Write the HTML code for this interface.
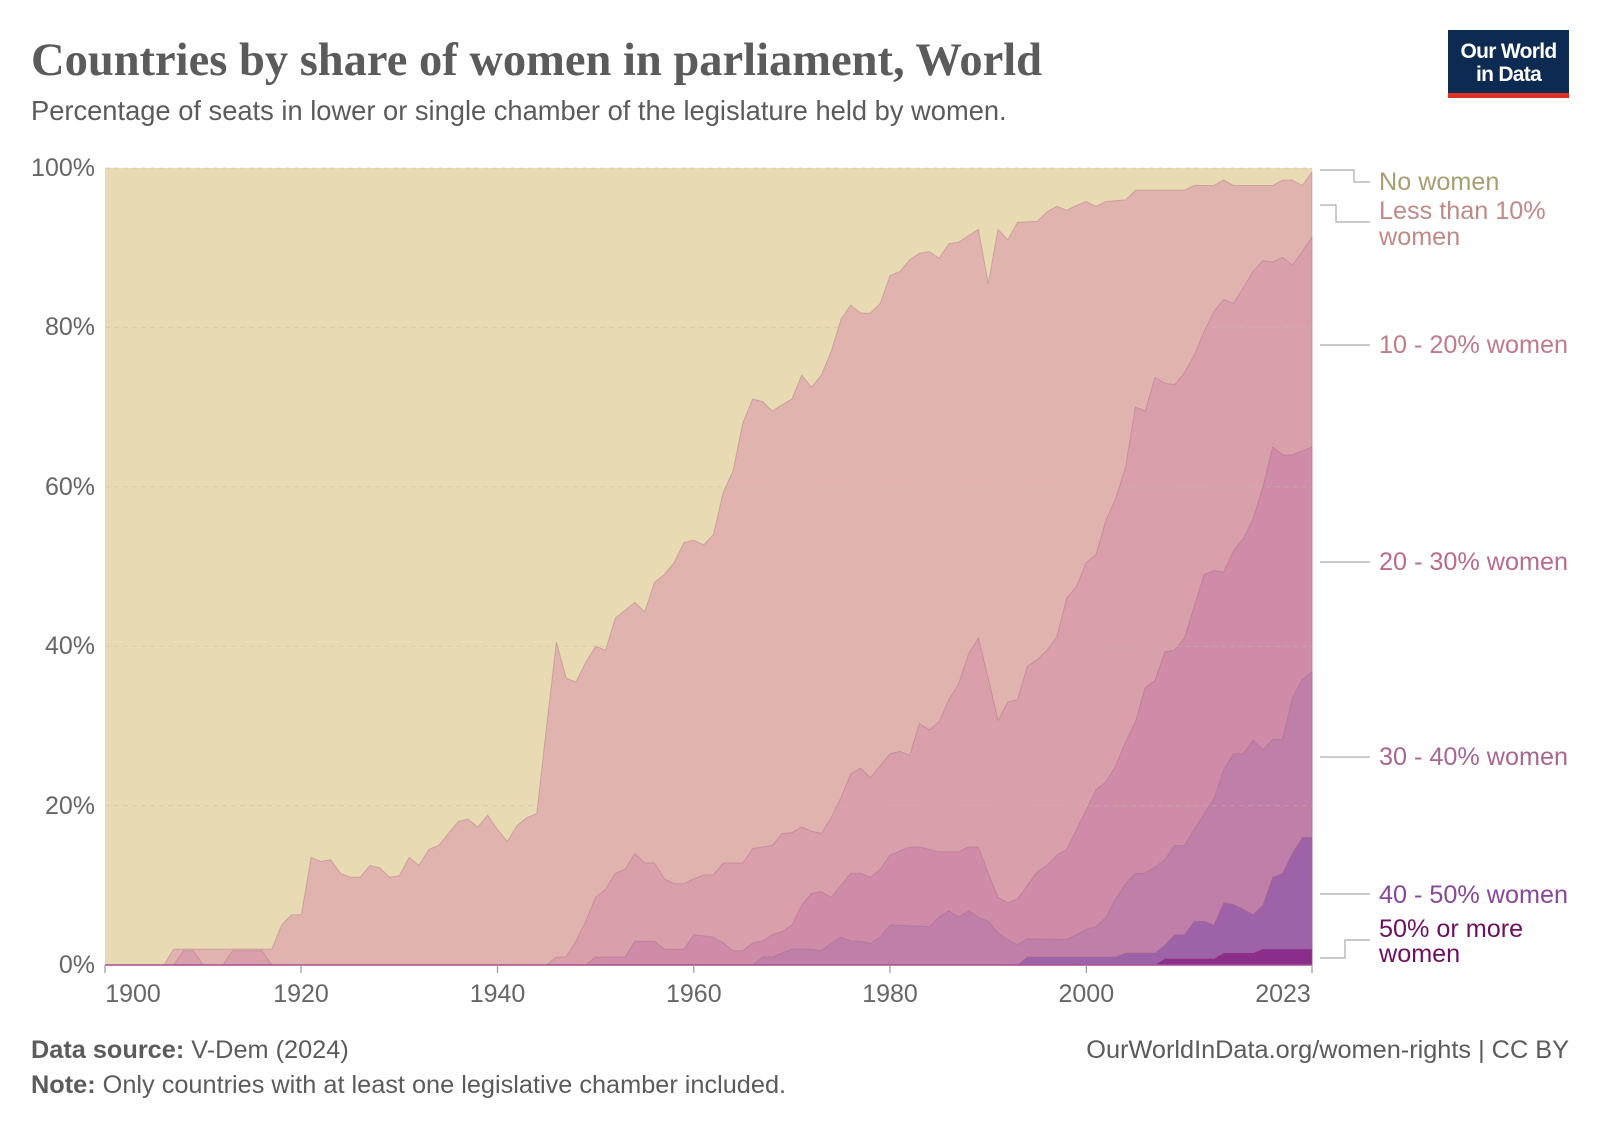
<!DOCTYPE html>
<html><head><meta charset="utf-8">
<style>
html,body{margin:0;padding:0;background:#fff;}
body{width:1600px;height:1129px;overflow:hidden;position:relative;font-family:"Liberation Sans",sans-serif;}
svg{position:absolute;left:0;top:0;}
</style></head>
<body>
<svg id="s" width="1600" height="1129" viewBox="0 0 1600 1129" xmlns="http://www.w3.org/2000/svg">
<text x="31" y="75" font-family="Liberation Serif,serif" font-weight="bold" font-size="46.5" fill="#5b5b5b">Countries by share of women in parliament, World</text>
<text x="31" y="120" font-size="27.3" fill="#5b5b5b">Percentage of seats in lower or single chamber of the legislature held by women.</text>
<rect x="1448" y="30" width="121" height="63" fill="#0d2a52"/>
<rect x="1448" y="93" width="121" height="5" fill="#dc3224"/>
<text x="1508.5" y="58" text-anchor="middle" font-size="21" fill="#fff" font-weight="bold" letter-spacing="-0.7">Our World</text>
<text x="1508.5" y="81" text-anchor="middle" font-size="21" fill="#fff" font-weight="bold" letter-spacing="-0.7">in Data</text>
<rect x="105" y="168" width="1207" height="797" fill="#e8dab2"/>
<g id="areas"></g>
<g stroke="#c9b9a0" stroke-opacity="0.45" stroke-dasharray="5,4" stroke-width="1">
<line x1="105" x2="1312" y1="168" y2="168"/><line x1="105" x2="1312" y1="327.4" y2="327.4"/><line x1="105" x2="1312" y1="486.8" y2="486.8"/><line x1="105" x2="1312" y1="646.2" y2="646.2"/><line x1="105" x2="1312" y1="805.6" y2="805.6"/>
</g>
<g font-size="25" fill="#666" text-anchor="end">
<text x="95" y="176">100%</text><text x="95" y="335">80%</text><text x="95" y="495">60%</text><text x="95" y="654">40%</text><text x="95" y="814">20%</text><text x="95" y="973">0%</text>
</g>
<g stroke="#999" stroke-width="1.2">
<line x1="105" x2="105" y1="965" y2="973"/><line x1="301" x2="301" y1="965" y2="973"/><line x1="497.5" x2="497.5" y1="965" y2="973"/><line x1="693.8" x2="693.8" y1="965" y2="973"/><line x1="890" x2="890" y1="965" y2="973"/><line x1="1086.3" x2="1086.3" y1="965" y2="973"/><line x1="1312" x2="1312" y1="965" y2="973"/>
</g>
<g font-size="25" fill="#666" text-anchor="middle">
<text x="133" y="1002">1900</text><text x="301" y="1002">1920</text><text x="497.5" y="1002">1940</text><text x="693.8" y="1002">1960</text><text x="890" y="1002">1980</text><text x="1086.3" y="1002">2000</text><text x="1283" y="1002">2023</text>
</g>
<g fill="none" stroke="#aaa" stroke-width="1.2">
<polyline points="1320,170 1354,170 1354,182 1370,182"/>
<polyline points="1320,205 1336,205 1336,222 1370,222"/>
<line x1="1320" x2="1370" y1="345" y2="345"/>
<line x1="1320" x2="1370" y1="562" y2="562"/>
<line x1="1320" x2="1370" y1="757" y2="757"/>
<line x1="1320" x2="1370" y1="894" y2="894"/>
<polyline points="1320,958 1345,958 1345,940 1370,940"/>
</g>
<g font-size="25.2">
<text x="1379" y="190" fill="#a99e6f">No women</text>
<text x="1379" y="219" fill="#c08a86">Less than 10%</text>
<text x="1379" y="245" fill="#c08a86">women</text>
<text x="1379" y="353" fill="#c07a8c">10 - 20% women</text>
<text x="1379" y="570" fill="#b86c8c">20 - 30% women</text>
<text x="1379" y="765" fill="#a96692">30 - 40% women</text>
<text x="1379" y="903" fill="#87489a">40 - 50% women</text>
<text x="1379" y="937" fill="#6e1060">50% or more</text>
<text x="1379" y="962" fill="#6e1060">women</text>
</g>
<g font-size="25.3" fill="#5b5b5b">
<text x="31" y="1058"><tspan font-weight="bold">Data source:</tspan> V-Dem (2024)</text>
<text x="31" y="1093"><tspan font-weight="bold">Note:</tspan> Only countries with at least one legislative chamber included.</text>
<text x="1569" y="1058" text-anchor="end">OurWorldInData.org/women-rights | CC BY</text>
</g>
</svg>
<script>
var B=[
[[1900,0],[1906,0],[1907,2],[1917,2],[1918,5],[1919,6.3],[1920,6.3],[1921,13.5],[1922,13],[1923,13.2],[1924,11.5],[1925,11],[1926,11],[1927,12.5],[1928,12.2],[1929,11],[1930,11.2],[1931,13.5],[1932,12.5],[1933,14.5],[1934,15],[1935,16.5],[1936,18],[1937,18.3],[1938,17.3],[1939,18.8],[1940,17],[1941,15.5],[1942,17.5],[1943,18.5],[1944,19],[1945,30],[1946,40.5],[1947,36],[1948,35.5],[1949,38],[1950,40],[1951,39.5],[1952,43.5],[1953,44.5],[1954,45.5],[1955,44.3],[1956,48],[1957,49],[1958,50.5],[1959,53],[1960,53.3],[1961,52.7],[1962,54],[1963,59.3],[1964,62],[1965,68],[1966,71],[1967,70.7],[1968,69.5],[1969,70.3],[1970,71],[1971,74],[1972,72.5],[1973,74],[1974,77],[1975,81],[1976,82.8],[1977,81.8],[1978,81.8],[1979,83],[1980,86.5],[1981,87],[1982,88.5],[1983,89.3],[1984,89.5],[1985,88.7],[1986,90.5],[1987,90.7],[1988,91.5],[1989,92.3],[1990,85.5],[1991,92.3],[1992,91],[1993,93.2],[1995,93.3],[1996,94.5],[1997,95.2],[1998,94.7],[1999,95.3],[2000,95.8],[2001,95.2],[2002,95.8],[2004,96],[2005,97.2],[2010,97.2],[2011,97.8],[2013,97.8],[2014,98.5],[2015,97.8],[2019,97.8],[2020,98.5],[2021,98.5],[2022,97.8],[2023,99.5]],
[[1900,0],[1907,0],[1908,1.8],[1909,1.8],[1910,0],[1912,0],[1913,1.8],[1916,1.8],[1917,0],[1945,0],[1946,1],[1947,1],[1948,3],[1949,5.5],[1950,8.5],[1951,9.5],[1952,11.5],[1953,12],[1954,14],[1955,12.8],[1956,12.8],[1957,10.8],[1958,10.2],[1959,10.2],[1960,10.8],[1961,11.3],[1962,11.3],[1963,12.8],[1965,12.8],[1966,14.6],[1967,14.8],[1968,15],[1969,16.5],[1970,16.6],[1971,17.3],[1972,16.8],[1973,16.5],[1974,18.5],[1975,21],[1976,24],[1977,24.7],[1978,23.5],[1979,25],[1980,26.5],[1981,26.8],[1982,26.3],[1983,30.3],[1984,29.5],[1985,30.5],[1986,33.3],[1987,35.3],[1988,39],[1989,41],[1990,36],[1991,30.7],[1992,33],[1993,33.3],[1994,37.5],[1995,38.3],[1996,39.5],[1997,41.2],[1998,46],[1999,47.5],[2000,50.5],[2001,51.5],[2002,55.8],[2003,58.5],[2004,62.5],[2005,70],[2006,69.5],[2007,73.7],[2008,73],[2009,72.8],[2010,74.3],[2011,76.5],[2012,79.5],[2013,82],[2014,83.5],[2015,83],[2016,85],[2017,87],[2018,88.4],[2019,88.2],[2020,88.8],[2021,87.8],[2022,89.5],[2023,91.3]],
[[1900,0],[1949,0],[1950,1],[1953,1],[1954,3],[1956,3],[1957,2],[1959,2],[1960,3.8],[1962,3.5],[1963,2.8],[1964,1.8],[1965,1.8],[1966,2.8],[1967,3],[1968,3.8],[1969,4.2],[1970,5],[1971,7.5],[1972,9],[1973,9.2],[1974,8.5],[1975,10],[1976,11.5],[1977,11.5],[1978,11],[1979,12],[1980,13.8],[1981,14.3],[1982,14.8],[1983,14.8],[1984,14.5],[1985,14.2],[1987,14.2],[1988,14.8],[1989,14.8],[1990,11.5],[1991,8.5],[1992,7.8],[1993,8.3],[1994,10],[1995,11.7],[1996,12.5],[1997,13.8],[1998,14.5],[1999,17],[2000,19.5],[2001,22],[2002,23],[2003,25],[2004,28],[2005,30.5],[2006,34.8],[2007,35.7],[2008,39.3],[2009,39.5],[2010,41],[2011,45],[2012,49],[2013,49.5],[2014,49.3],[2015,52],[2016,53.5],[2017,56],[2018,60],[2019,65],[2020,64],[2021,64],[2023,65]],
[[1900,0],[1966,0],[1967,1],[1968,1],[1969,1.5],[1970,2],[1972,2],[1973,1.8],[1974,2.7],[1975,3.5],[1976,3],[1977,3],[1978,2.7],[1979,3.5],[1980,5],[1981,5],[1982,4.9],[1983,4.9],[1984,4.8],[1985,6],[1986,6.8],[1987,6],[1988,6.8],[1989,6],[1990,5.5],[1991,4],[1992,3.2],[1993,2.5],[1994,3.3],[1998,3.2],[1999,3.8],[2000,4.5],[2001,4.8],[2002,6],[2003,8.3],[2004,10.2],[2005,11.5],[2006,11.5],[2007,12.3],[2008,13.2],[2009,15],[2010,15],[2011,17],[2012,19],[2013,20.8],[2014,24.5],[2015,26.5],[2016,26.5],[2017,28.2],[2018,27],[2019,28.3],[2020,28.3],[2021,33.5],[2022,35.8],[2023,36.8]],
[[1900,0],[1993,0],[1994,1],[2003,1],[2004,1.5],[2007,1.5],[2008,2.5],[2009,3.8],[2010,3.8],[2011,5.5],[2012,5.5],[2013,5],[2014,7.8],[2015,7.6],[2016,7],[2017,6.3],[2018,7.5],[2019,11],[2020,11.5],[2021,14],[2022,16],[2023,16]],
[[1900,0],[2007,0],[2008,0.8],[2013,0.8],[2014,1.5],[2017,1.5],[2018,2],[2023,2]]
];
var cols=["#e1b3af","#d9a0ac","#cf8ba8","#c07fa8","#9e62a8","#8b2d8b"];
var X=function(y){return 105+(y-1900)*1207/123;};
var Y=function(p){return 965-p*7.97;};
var g=document.getElementById("areas"),ns="http://www.w3.org/2000/svg";
B.forEach(function(pts,i){
  var d="M"+X(1900)+","+Y(0);
  pts.forEach(function(p){d+=" L"+X(p[0]).toFixed(1)+","+Y(p[1]).toFixed(1);});
  d+=" L"+X(2023)+","+Y(0)+" Z";
  var e=document.createElementNS(ns,"path");
  e.setAttribute("d",d);e.setAttribute("fill",cols[i]);
  e.setAttribute("stroke","#a0607a");e.setAttribute("stroke-opacity","0.35");e.setAttribute("stroke-width","1");
  g.appendChild(e);
});
var l=document.createElementNS(ns,"line");
l.setAttribute("x1",105);l.setAttribute("x2",1312);l.setAttribute("y1",965);l.setAttribute("y2",965);
l.setAttribute("stroke","#a84e8a");l.setAttribute("stroke-width","1.5");g.appendChild(l);
</script>
</body></html>
